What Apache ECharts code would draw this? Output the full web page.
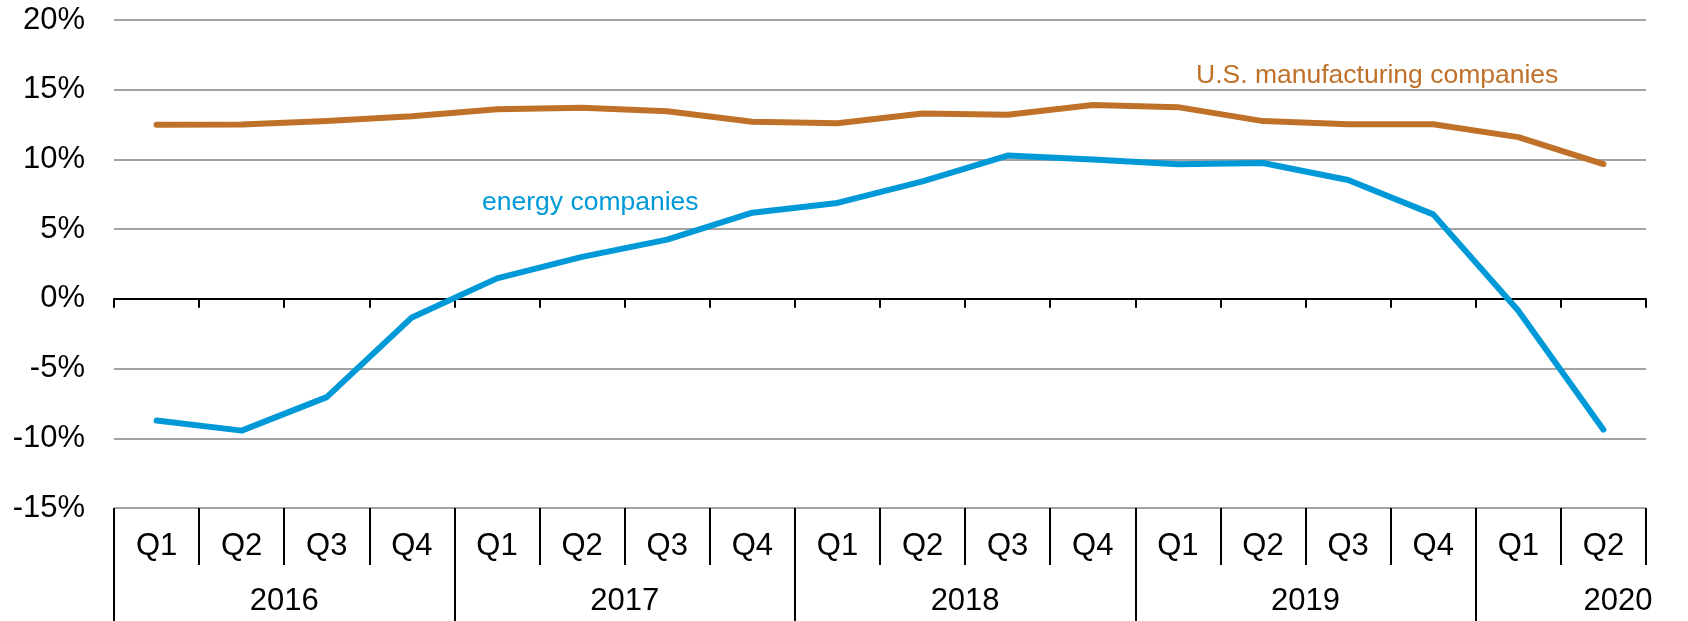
<!DOCTYPE html>
<html>
<head>
<meta charset="utf-8">
<script src="https://cdn.jsdelivr.net/npm/echarts@6/dist/echarts.min.js"></script>
<style>
  html, body { margin: 0; padding: 0; background: #fff; }
  #chart { width: 1688px; height: 621px; }
</style>
</head>
<body>
<div id="chart"></div>
<script>
let quarters = ['Q1', 'Q2', 'Q3', 'Q4', 'Q1', 'Q2', 'Q3', 'Q4', 'Q1', 'Q2', 'Q3', 'Q4',
  'Q1', 'Q2', 'Q3', 'Q4', 'Q1', 'Q2']
let years = ['2016', '2017', '2018', '2019', '2020']
let yearStart = [0, 4, 8, 12, 16]
let yearLabelAt = [2, 6, 10, 14, 17.67]
let energy = [-8.73, -9.45, -7.05, -1.33, 1.47, 3.01, 4.25, 6.18, 6.88, 8.42, 10.28, 10.0,
  9.66, 9.74, 8.52, 6.06, -0.85, -9.38]
let manufacturing = [12.48, 12.5, 12.75, 13.1, 13.6, 13.7, 13.45, 12.7, 12.6, 13.3, 13.2, 13.9,
  13.75, 12.75, 12.52, 12.52, 11.6, 9.67]
let yTicks = { min: -15, max: 20, step: 5 }

let font = '"Liberation Sans", Arial, sans-serif'
let blue = '#0099D8'
let orange = '#C07129'
let myChart = echarts.init(document.getElementById('chart'))

function yearName(v) {
  // nearest year label for this position
  let best = 0
  yearLabelAt.forEach((p, i) => {
    if (Math.abs(p - v) < Math.abs(yearLabelAt[best] - v)) best = i
  })
  return years[best]
}

let option = {
  animation: false,
  grid: { left: 114, right: 42, top: 20, bottom: 113, outerBoundsMode: 'none' },
  xAxis: [
    {
      // zero line with short ticks
      type: 'category',
      data: quarters,
      axisLine: { onZero: true, lineStyle: { color: '#000', width: 2 } },
      axisTick: { show: true, interval: 0, length: 9, lineStyle: { color: '#000', width: 2 } },
      axisLabel: { show: false },
      splitLine: { show: false }
    },
    {
      // quarter labels at the bottom
      type: 'category',
      data: quarters,
      position: 'bottom',
      axisLine: { show: false, onZero: false },
      axisTick: { show: true, interval: 0, length: 57, lineStyle: { color: '#000', width: 2 } },
      axisLabel: { interval: 0, margin: 23, fontSize: 31, color: '#000', fontFamily: font },
      splitLine: { show: false }
    },
    {
      // year groups
      type: 'value',
      min: 0,
      max: 18,
      position: 'bottom',
      axisLine: { show: false, onZero: false },
      axisTick: { show: true, customValues: yearStart, length: 120, lineStyle: { color: '#000', width: 2 } },
      axisLabel: {
        customValues: yearLabelAt, margin: 78, fontSize: 31, color: '#000', fontFamily: font,
        formatter: v => yearName(v)
      },
      splitLine: { show: false }
    }
  ],
  yAxis: {
    type: 'value',
    min: yTicks.min,
    max: yTicks.max,
    interval: yTicks.step,
    axisLine: { show: false },
    axisTick: { show: false },
    axisLabel: { formatter: '{value}%', fontSize: 31, color: '#000', margin: 29, fontFamily: font },
    splitLine: { lineStyle: { color: '#A3A3A3', width: 2 } }
  },
  series: [
    {
      name: 'U.S. manufacturing companies',
      type: 'line',
      xAxisIndex: 0,
      data: manufacturing,
      showSymbol: false,
      lineStyle: { color: orange, width: 6, cap: 'round', join: 'round' },
      z: 3
    },
    {
      name: 'energy companies',
      type: 'line',
      xAxisIndex: 0,
      data: energy,
      showSymbol: false,
      lineStyle: { color: blue, width: 6, cap: 'round', join: 'round' },
      z: 4
    }
  ],
  graphic: [
    {
      type: 'text', left: 482, top: 189,
      style: { text: 'energy companies', fill: blue, fontSize: 26.5, fontFamily: font }
    },
    {
      type: 'text', left: 1196, top: 62,
      style: { text: 'U.S. manufacturing companies', fill: orange, fontSize: 26.5, fontFamily: font }
    }
  ]
}
myChart.setOption(option)
</script>
</body>
</html>
